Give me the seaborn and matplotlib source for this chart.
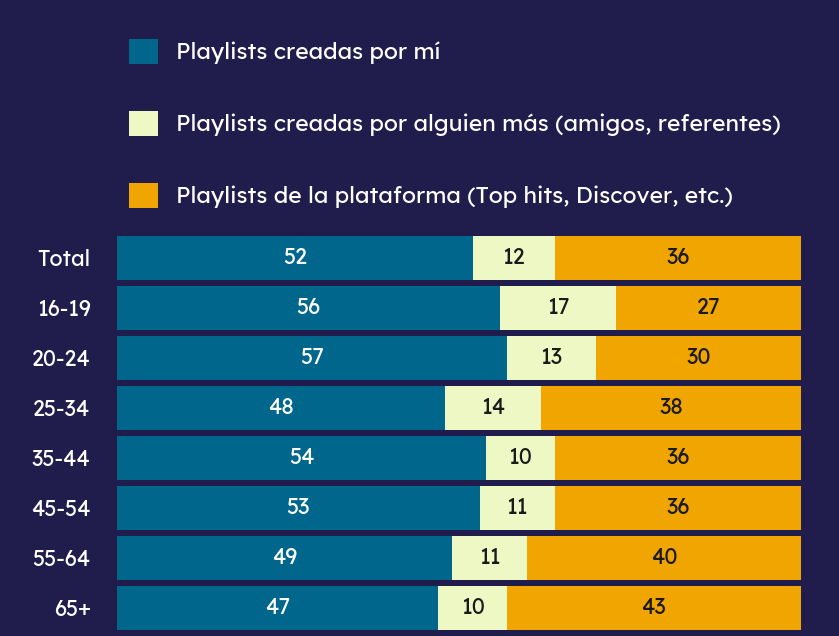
import numpy as np
import pandas as pd
import matplotlib
matplotlib.use("Agg")
import matplotlib.pyplot as plt
from matplotlib.patches import Patch
import seaborn as sns

# ===============================
# DATA
# ===============================
grupos = ["Total", "16-19", "20-24", "25-34", "35-44", "45-54", "55-64", "65+"]
por_mi = [52, 56, 57, 48, 54, 53, 49, 47]
por_otro = [12, 17, 13, 14, 10, 11, 11, 10]
plataforma = [36, 27, 30, 38, 36, 36, 40, 43]
series_nombres = ["Playlists creadas por mí",
                  "Playlists creadas por alguien más (amigos, referentes)",
                  "Playlists de la plataforma (Top hits, Discover, etc.)"]
colores = ["#00668c", "#eef8c4", "#f0a500"]
fondo = "#201c4b"

sns.set_style("dark")
plt.rcParams['font.family'] = ['Lexend', 'Inter', 'DejaVu Sans']

df = pd.DataFrame({"grupo": grupos, "a": por_mi, "b": por_otro, "c": plataforma})
df["ab"] = df["a"] + df["b"]
df["abc"] = df["ab"] + df["c"]

fig = plt.figure(figsize=(8.39, 6.36), dpi=100, facecolor=fondo)
ax = fig.add_axes([117 / 839, 3 / 636, 684 / 839, 400 / 636])
ax.set_facecolor(fondo)

for col, color in zip(["abc", "ab", "a"], colores[::-1]):
    sns.barplot(data=df, x=col, y="grupo", color=color, width=0.88,
                saturation=1, orient="h", ax=ax, linewidth=0, edgecolor="none")

# etiquetas centradas
for i in range(len(grupos)):
    starts = [0, df["a"][i], df["ab"][i]]
    vals = [df["a"][i], df["b"][i], df["c"][i]]
    for j, (s, v) in enumerate(zip(starts, vals)):
        ax.text(s + v / 2, i, str(v), ha="center", va="center", fontsize=15.5,
                fontweight="light", color="white" if j == 0 else "#1a1a1a")

ax.set_xlim(0, 100)
ax.set_ylim(7.5, -0.5)
ax.set_xlabel("")
ax.set_ylabel("")
ax.set_xticks([])
ax.tick_params(axis="y", length=0, labelsize=15.5, labelcolor="white", pad=19)
for t in ax.get_yticklabels():
    t.set_fontweight("light")
for sp in ax.spines.values():
    sp.set_visible(False)

handles = [Patch(facecolor=c, edgecolor="none") for c in colores]
leg = fig.legend(handles, series_nombres, loc="upper left",
                 bbox_to_anchor=(108 / 839, 1 - 18 / 636), frameon=False,
                 prop={"size": 16.5, "weight": "light"},
                 handlelength=1.3, handleheight=1.3,
                 labelspacing=2.05, handletextpad=0.75)
for t in leg.get_texts():
    t.set_color("white")

fig.savefig("out.png", dpi=100, facecolor=fondo)
